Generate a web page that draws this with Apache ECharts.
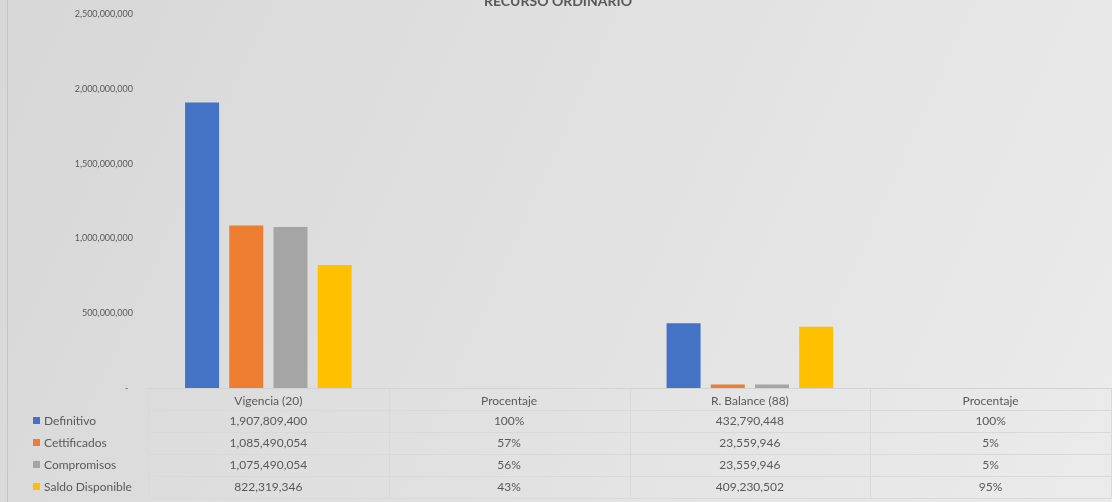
<!DOCTYPE html>
<html>
<head>
<meta charset="utf-8">
<script src="https://cdn.jsdelivr.net/npm/echarts@6/dist/echarts.min.js"></script>
<style>
  html, body { margin: 0; padding: 0; }
  #main { width: 1112px; height: 502px; }
</style>
</head>
<body>
<div id="main"></div>
<script>
// datos del grafico
const categories = ['Vigencia (20)', 'Procentaje', 'R. Balance (88)', 'Procentaje'];
const seriesNames = ['Definitivo', 'Cettificados', 'Compromisos', 'Saldo Disponible'];
const definitivo = [1907809400, 1.00, 432790448, 1.00];
const certificados = [1085490054, 0.57, 23559946, 0.05];
const compromisos = [1075490054, 0.56, 23559946, 0.05];
const saldo = [822319346, 0.43, 409230502, 0.95];
const yTicks = [0, 500000000, 1000000000, 1500000000, 2000000000, 2500000000];

const colors = ['#4472C4', '#ED7D31', '#A5A5A5', '#FFC000'];
const allData = [definitivo, certificados, compromisos, saldo];
const font = 'Lato';
const txt = '#595959';

// layout
const gLeft = 148, gRight = 1111, gTop = 14, gBottom = 388;
const colW = (gRight - gLeft) / categories.length;
const rowH = 22;

function fmt(v, i) {
  // columnas de porcentaje
  if (categories[i] === 'Procentaje') return Math.round(v * 100) + '%';
  return v.toLocaleString('en-US');
}

const graphic = [];
// fondo degradado
graphic.push({
  type: 'rect', z: -10, silent: true,
  shape: { x: 0, y: 0, width: 1112, height: 502 },
  style: {
    fill: new echarts.graphic.LinearGradient(0, 0, 1, 1, [
      { offset: 0, color: '#d7d7d7' },
      { offset: 1, color: '#ebebeb' }
    ])
  }
});
// borde izquierdo
graphic.push({
  type: 'line', z: -5, silent: true,
  shape: { x1: 7.5, y1: 0, x2: 7.5, y2: 502 },
  style: { stroke: '#c4c4c4', lineWidth: 1 }
});
// lineas de la tabla
for (let r = 1; r <= seriesNames.length + 1; r++) {
  const y = gBottom + r * rowH + 0.5;
  graphic.push({
    type: 'line', z: -5, silent: true,
    shape: { x1: gLeft, y1: y, x2: gRight, y2: y },
    style: { stroke: '#d9d9d9', lineWidth: 1 }
  });
}
for (let c = 0; c <= categories.length; c++) {
  const x = Math.round(gLeft + c * colW) + 0.5;
  graphic.push({
    type: 'line', z: -5, silent: true,
    shape: { x1: x, y1: gBottom, x2: x, y2: gBottom + (seriesNames.length + 1) * rowH },
    style: { stroke: '#d9d9d9', lineWidth: 1 }
  });
}
// filas: leyenda + valores
seriesNames.forEach((name, s) => {
  const cy = gBottom + (s + 1) * rowH + rowH / 2;
  graphic.push({
    type: 'rect', silent: true,
    shape: { x: 33, y: cy - 4, width: 7, height: 7 },
    style: { fill: colors[s] }
  });
  graphic.push({
    type: 'text', silent: true, x: 44, y: cy,
    style: { text: name, fill: txt, font: '12px ' + font, verticalAlign: 'middle', align: 'left' }
  });
  allData[s].forEach((v, i) => {
    graphic.push({
      type: 'text', silent: true, x: gLeft + colW * (i + 0.5), y: cy,
      style: { text: fmt(v, i), fill: txt, font: '12px ' + font, verticalAlign: 'middle', align: 'center' }
    });
  });
});

const chart = echarts.init(document.getElementById('main'));
chart.setOption({
  animation: false,
  title: {
    text: 'RECURSO ORDINARIO',
    left: 553, top: -11, textAlign: 'center',
    textStyle: { fontFamily: font, fontSize: 14, fontWeight: 'bold', color: txt }
  },
  grid: { left: gLeft, right: 1112 - gRight, top: gTop, bottom: 502 - gBottom, containLabel: false },
  xAxis: {
    type: 'category',
    data: categories,
    axisLine: { lineStyle: { color: '#d3d3d3' } },
    axisTick: { show: false },
    axisLabel: { color: txt, fontFamily: font, fontSize: 12, margin: 7 }
  },
  yAxis: {
    type: 'value',
    min: yTicks[0], max: yTicks[yTicks.length - 1], interval: yTicks[1] - yTicks[0],
    splitLine: { show: false },
    axisLine: { show: false },
    axisTick: { show: false },
    axisLabel: {
      color: txt, fontFamily: font, fontSize: 9, margin: 15,
      formatter: v => v === 0 ? '-  ' : v.toLocaleString('en-US')
    }
  },
  series: seriesNames.map((name, s) => ({
    name: name,
    type: 'bar',
    data: allData[s],
    barWidth: 34,
    barGap: '30%',
    itemStyle: { color: colors[s] }
  })),
  graphic: graphic
});
</script>
</body>
</html>
